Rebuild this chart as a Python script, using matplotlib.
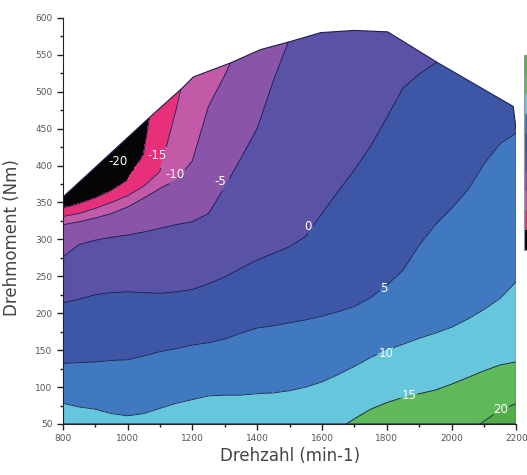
import matplotlib.pyplot as plt
import numpy as np
from matplotlib.patches import Polygon
from matplotlib.ticker import MultipleLocator

rpmCols = [800, 850, 900, 950, 1000, 1050, 1100, 1150, 1200, 1250, 1300, 1350, 1400, 1450, 1500,
           1550, 1600, 1650, 1700, 1750, 1800, 1850, 1900, 1950, 2000, 2050, 2100, 2150, 2200]

# torque (Nm) at which each level is crossed in every column
# (values above 600 / below 50 lie outside the map and only keep the order)
crossM25 = [1000] * 29
crossM20 = [342, 348, 356, 366, 380, 415, 550, 900, 900, 900, 900, 900, 900, 900, 900,
            900, 900, 900, 900, 900, 900, 900, 900, 900, 900, 900, 900, 900, 900]
crossM15 = [331, 335, 342, 350, 359, 372, 392, 475, 570, 850, 850, 850, 850, 850, 850,
            850, 850, 850, 850, 850, 850, 850, 850, 850, 850, 850, 850, 850, 850]
crossM10 = [320, 324, 329, 335, 344, 356, 369, 380, 406, 480, 522, 570, 800, 800, 800,
            800, 800, 800, 800, 800, 800, 800, 800, 800, 800, 800, 800, 800, 800]
crossM5 = [276, 293, 299, 303, 306, 310, 315, 320, 324, 335, 371, 410, 450, 515, 572,
           700, 700, 700, 700, 700, 700, 700, 700, 700, 700, 700, 700, 700, 700]
cross0 = [214, 219, 225, 228, 229, 228, 227, 229, 232, 240, 249, 261, 272, 281, 290,
          304, 335, 365, 394, 426, 465, 505, 524, 539, 555, 575, 600, 620, 640]
cross5 = [132, 133, 134, 136, 137, 142, 148, 152, 157, 160, 165, 173, 180, 183, 187,
          191, 196, 202, 209, 221, 238, 258, 292, 320, 342, 367, 402, 430, 444]
cross10 = [78, 73, 70, 64, 61, 64, 71, 78, 83, 88, 89, 89, 91, 92, 95,
           100, 107, 117, 128, 140, 150, 158, 166, 173, 181, 192, 205, 220, 243]
cross15 = [40, 38, 35, 30, 28, 30, 35, 38, 40, 40, 40, 40, 40, 40, 40,
           40, 40, 43, 57, 70, 79, 86, 91, 96, 104, 113, 122, 130, 134]
cross20 = [0, 0, 0, 0, 0, 0, 0, 0, 0, 0, 0, 0, 0, 0, 0,
           0, 0, 0, 0, 0, 0, 0, 0, 0, 30, 38, 54, 69, 78]
cross25 = [-100] * 29

levelVals = [-25, -20, -15, -10, -5, 0, 5, 10, 15, 20, 25]
crossRows = [crossM25, crossM20, crossM15, crossM10, crossM5, cross0, cross5, cross10, cross15, cross20, cross25]

# full load curve
boundaryRpm = [800, 800, 1070, 1169, 1203, 1318, 1410, 1503, 1596, 1700, 1803, 1958, 2190, 2200, 2200]
boundaryTorque = [50, 357, 466, 505, 520, 539, 557, 568, 580, 583, 581, 539, 480, 445, 50]

bandColors = ['#050505', '#e8307a', '#c35aa8', '#8a55a8', '#5a52a6', '#3d56a6',
              '#4179c0', '#66c6dc', '#5fb95b', '#50ad48']

# where the labels sit in the original
labelPos = [(971, 405), (1091, 414), (1145, 388), (1287, 378), (1558, 317),
            (1790, 234), (1797, 146), (1868, 88), (2152, 69)]

# build the value field: iso-line heights follow the read points between columns
rpmFine = np.linspace(800, 2200, 561)
tq = np.linspace(40, 610, 571)
crossFine = np.array([np.interp(rpmFine, rpmCols, row) for row in crossRows])
Z = np.zeros((len(tq), len(rpmFine)))
for i in range(len(rpmFine)):
    Z[:, i] = np.interp(tq, crossFine[::-1, i], levelVals[::-1])

fig = plt.figure(figsize=(5.27, 4.75), dpi=100)
ax = fig.add_axes([0.119, 0.1074, 0.861, 0.855])

lineCol = '#1e1e4a'
cs = ax.contourf(rpmFine, tq, Z, levels=levelVals, colors=bandColors)
cl = ax.contour(rpmFine, tq, Z, levels=levelVals[1:-1], colors=lineCol,
                linewidths=0.6, linestyles='solid')

patch = Polygon(np.column_stack([boundaryRpm, boundaryTorque]), closed=True,
                facecolor='none', edgecolor=lineCol, linewidth=0.8, zorder=3)
ax.add_patch(patch)
cs.set_clip_path(patch)
cl.set_clip_path(patch)

labels = ax.clabel(cl, levelVals[1:-1], manual=labelPos, inline=True, fmt='%d',
                   fontsize=8.5, colors='white', inline_spacing=1)
for t, pos in zip(labels, labelPos):
    t.set_rotation(0)
    t.set_position(pos)

ax.set_xlim(800, 2200)
ax.set_ylim(50, 600)
ax.set_xticks([800, 1000, 1200, 1400, 1600, 1800, 2000, 2200])
ax.set_yticks(range(50, 601, 50))
ax.xaxis.set_minor_locator(MultipleLocator(100))
ax.yaxis.set_minor_locator(MultipleLocator(25))
ax.tick_params(which='major', length=4, width=1, labelsize=6.5, labelcolor='#555555', color='#222222')
ax.tick_params(which='minor', length=2.5, width=1, color='#222222')
ax.spines['top'].set_visible(False)
ax.spines['right'].set_visible(False)
ax.spines['left'].set_color('#222222')
ax.spines['bottom'].set_color('#222222')

ax.set_xlabel('Drehzahl (min-1)', fontsize=12, color='#444444')
ax.set_ylabel('Drehmoment (Nm)', fontsize=12, color='#444444')
ax.xaxis.set_label_coords(0.5, -0.057)
ax.yaxis.set_label_coords(-0.092, 0.458)

# colour bar, mostly cut off at the right edge
cax = fig.add_axes([0.994, 0.474, 0.04, 0.41])
cb = fig.colorbar(cs, cax=cax)
cb.outline.set_edgecolor('#999999')
cax.set_yticks([])

fig.savefig('out.png', dpi=100)
